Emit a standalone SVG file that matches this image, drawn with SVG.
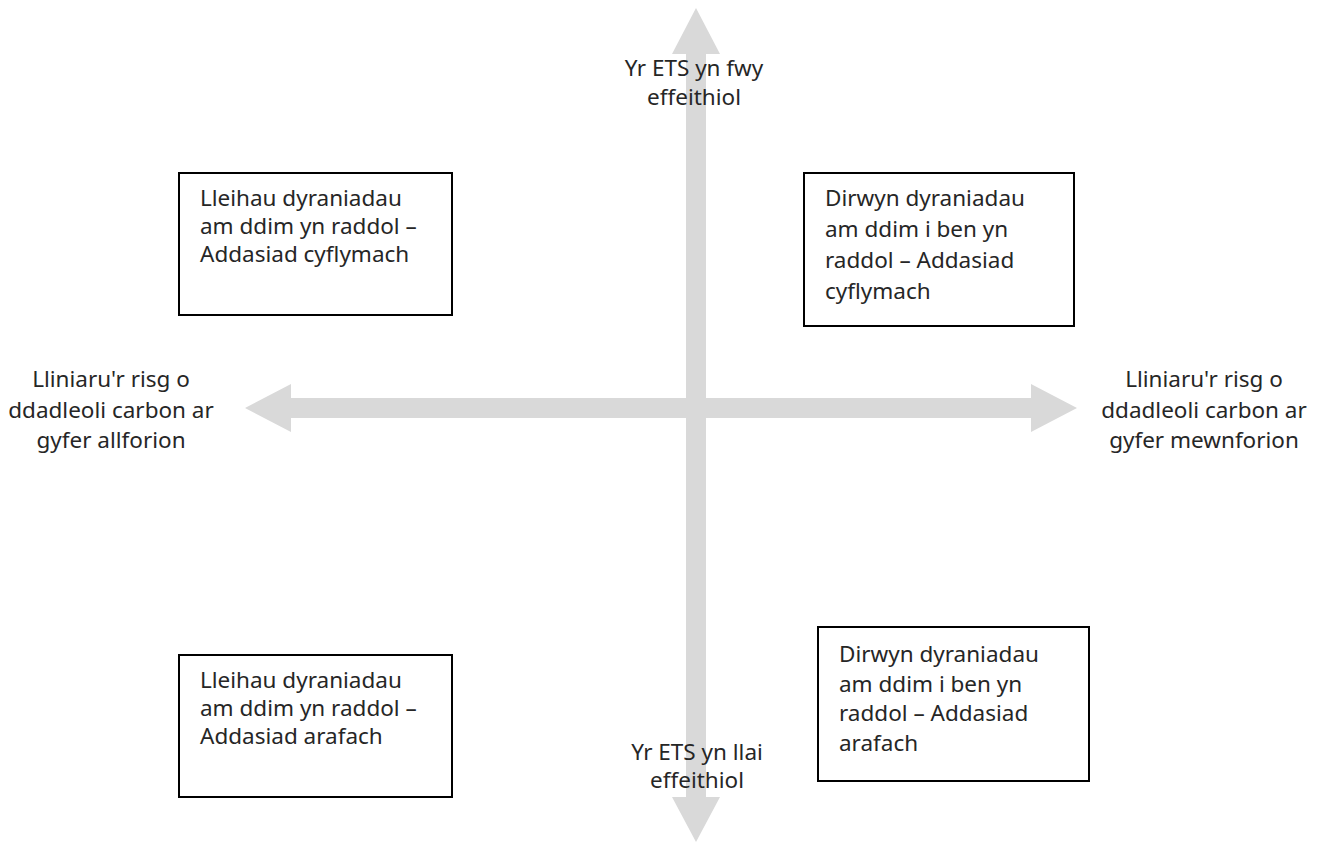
<svg xmlns="http://www.w3.org/2000/svg" width="1322" height="843" viewBox="0 0 1322 843">
  <style>
    .axis { fill: #d9d9d9; stroke: none; }
    .box rect { fill: #ffffff; stroke: #000000; stroke-width: 2; }
    text { font-family: "Noto Sans", "Liberation Sans", sans-serif; font-size: 22.5px; fill: #262626; }
    .mid { text-anchor: middle; }
  </style>
  <rect width="1322" height="843" fill="#ffffff"/>
  <g id="connectors">
    <polygon class="axis" points="245,408 291,384 291,398 1031,398 1031,384 1077,408 1031,432 1031,418 291,418 291,432"/>
    <polygon class="axis" points="696,8 720,54 706,54 706,797 720,797 696,842 672,797 686,797 686,54 672,54"/>
  </g>
  <g id="label-top">
    <text class="mid" x="694" y="76">Yr ETS yn fwy</text>
    <text class="mid" x="694" y="105">effeithiol</text>
  </g>
  <g id="label-bottom">
    <text class="mid" x="697" y="760">Yr ETS yn llai</text>
    <text class="mid" x="697" y="788">effeithiol</text>
  </g>
  <g id="label-left">
    <text class="mid" x="111" y="387">Lliniaru'r risg o</text>
    <text class="mid" x="111" y="418">ddadleoli carbon ar</text>
    <text class="mid" x="111" y="448">gyfer allforion</text>
  </g>
  <g id="label-right">
    <text class="mid" x="1204" y="387">Lliniaru'r risg o</text>
    <text class="mid" x="1204" y="418">ddadleoli carbon ar</text>
    <text class="mid" x="1204" y="448">gyfer mewnforion</text>
  </g>
  <g id="box-top-left" class="box">
    <rect x="179" y="173" width="273" height="142"/>
    <text x="200" y="206">Lleihau dyraniadau</text>
    <text x="200" y="234">am ddim yn raddol –</text>
    <text x="200" y="262">Addasiad cyflymach</text>
  </g>
  <g id="box-top-right" class="box">
    <rect x="804" y="173" width="270" height="153"/>
    <text x="825" y="206">Dirwyn dyraniadau</text>
    <text x="825" y="237">am ddim i ben yn</text>
    <text x="825" y="268">raddol – Addasiad</text>
    <text x="825" y="299">cyflymach</text>
  </g>
  <g id="box-bottom-left" class="box">
    <rect x="179" y="655" width="273" height="142"/>
    <text x="200" y="688">Lleihau dyraniadau</text>
    <text x="200" y="716">am ddim yn raddol –</text>
    <text x="200" y="744">Addasiad arafach</text>
  </g>
  <g id="box-bottom-right" class="box">
    <rect x="818" y="627" width="271" height="154"/>
    <text x="839" y="662">Dirwyn dyraniadau</text>
    <text x="839" y="692">am ddim i ben yn</text>
    <text x="839" y="721">raddol – Addasiad</text>
    <text x="839" y="751">arafach</text>
  </g>
</svg>
